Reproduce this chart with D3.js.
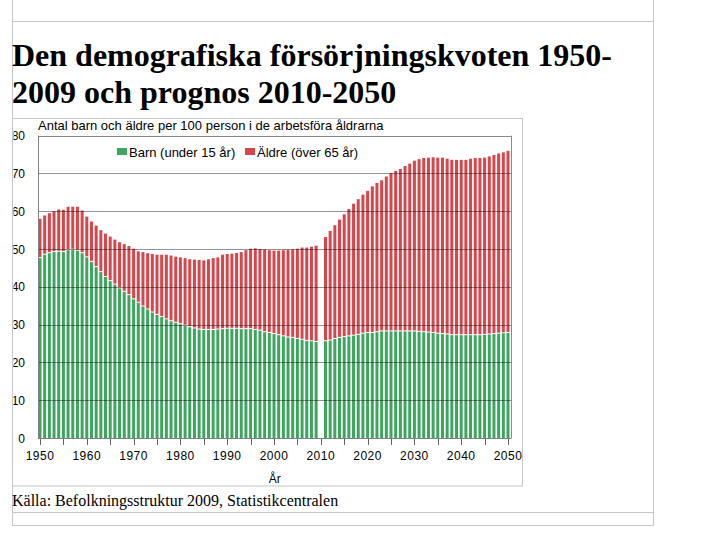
<!DOCTYPE html>
<html><head><meta charset="utf-8">
<script src="https://cdn.jsdelivr.net/npm/d3@7"></script>
<style>html,body{margin:0;padding:0;background:#fff;}svg{display:block;}</style>
</head><body>
<svg id="c" width="706" height="545"></svg>
<script>
const years = d3.range(1950, 2051);
const barn = [
 47.6,48.5,48.9,49.2,49.3,49.2,49.7,49.8,49.6,48.9,
 47.8,46.6,45.2,43.9,42.6,41.5,40.6,39.6,38.7,37.8,
 36.7,35.8,34.8,34.0,33.2,32.6,32.0,31.4,30.9,30.5,
 30.1,29.7,29.3,29.0,28.7,28.6,28.6,28.6,28.7,28.8,
 28.9,28.9,28.9,28.8,28.8,28.8,28.6,28.4,28.0,27.8,
 27.5,27.2,26.9,26.6,26.5,26.2,26.0,25.7,25.6,25.4,
 null,25.6,25.8,26.2,26.5,26.7,26.9,27.1,27.3,27.6,
 27.8,27.8,28.0,28.2,28.2,28.2,28.2,28.2,28.2,28.2,
 28.2,28.1,28.0,27.9,27.8,27.6,27.5,27.4,27.2,27.2,
 27.2,27.2,27.2,27.2,27.2,27.3,27.4,27.5,27.6,27.7,
 27.8];
const aldre = [
 10.4,10.4,10.6,10.8,11.2,11.2,11.5,11.4,11.6,11.3,
 10.8,10.7,11.0,11.1,11.5,11.8,11.9,12.2,12.6,13.0,
 13.4,13.6,14.4,14.9,15.5,15.9,16.5,17.1,17.4,17.5,
 17.7,17.9,18.0,18.2,18.4,18.4,18.7,19.0,19.1,19.7,
 19.8,19.9,20.1,20.4,20.9,21.3,21.6,21.6,21.9,21.9,
 22.1,22.4,22.8,23.2,23.4,23.9,24.4,24.7,25.0,25.5,
 null,27.6,29.0,30.1,31.3,32.5,33.7,34.9,35.9,36.8,
 37.6,38.8,39.5,40.0,41.0,41.9,42.5,43.0,43.8,44.4,
 45.2,45.7,46.1,46.3,46.5,46.6,46.7,46.5,46.4,46.4,
 46.4,46.4,46.7,46.9,46.9,46.9,47.1,47.4,47.7,47.9,
 48.2];
const yTicks = [0,10,20,30,40,50,60,70,80];
const xLabelYears = [1950,1960,1970,1980,1990,2000,2010,2020,2030,2040,2050];
const xTickYears = d3.range(1950, 2051, 5);
const seriesNames = ["Barn (under 15 år)", "Äldre (över 65 år)"];
const colors = ["#3ea55e", "#d8464c"];

const svg = d3.select("#c");
const lineCol = "#c6c6c6";
svg.append("rect").attr("width",706).attr("height",545).attr("fill","#fff");

// page frame
svg.append("line").attr("x1",12.5).attr("x2",12.5).attr("y1",0).attr("y2",525.5).attr("stroke",lineCol);
svg.append("line").attr("x1",653.5).attr("x2",653.5).attr("y1",0).attr("y2",525.5).attr("stroke",lineCol);
[21.5,512.5,525.5].forEach(y=>svg.append("line").attr("x1",12).attr("x2",654).attr("y1",y).attr("y2",y).attr("stroke",lineCol));

// title
const title = svg.append("g").attr("font-family","'Liberation Serif','Times New Roman',serif").attr("font-weight","bold").attr("font-size",32).attr("fill","#000");
title.append("text").attr("x",12).attr("y",66).text("Den demografiska försörjningskvoten 1950-");
title.append("text").attr("x",12).attr("y",103).text("2009 och prognos 2010-2050");

// chart box
svg.append("rect").attr("x",12.5).attr("y",118.5).attr("width",510).attr("height",367.5).attr("fill","none").attr("stroke",lineCol);

const defs = svg.append("defs");
defs.append("clipPath").attr("id","clipL").append("rect").attr("x",13.5).attr("y",100).attr("width",508.5).attr("height",400);

const sans = "'Liberation Sans',Arial,sans-serif";
svg.append("text").attr("x",38).attr("y",130).attr("font-family",sans).attr("font-size",13).attr("fill","#000")
  .text("Antal barn och äldre per 100 person i de arbetsföra åldrarna");

const x = d3.scaleLinear().domain([1950,2050]).range([40,508]);
const y = d3.scaleLinear().domain([0,80]).range([438,135.7]);
const left = 38, right = 511.5;
const bw = 3;

const data = years.map((yr,i)=>({yr, b:barn[i], a:aldre[i]})).filter(d=>d.b!=null);
const gb = svg.append("g");
gb.selectAll("rect.b").data(data).join("rect")
  .attr("x",d=>x(d.yr)-bw/2).attr("width",bw)
  .attr("y",d=>y(d.b)).attr("height",d=>y(0)-y(d.b)).attr("fill",colors[0]);
gb.selectAll("rect.a").data(data).join("rect")
  .attr("x",d=>x(d.yr)-bw/2).attr("width",bw)
  .attr("y",d=>y(d.b+d.a)).attr("height",d=>Math.max(0,y(d.b)-y(d.b+d.a)-1)).attr("fill",colors[1]);

// gridlines over bars
const grid = svg.append("g");
yTicks.filter(t=>t>0&&t<80).forEach(t=>{
  grid.append("line").attr("x1",left).attr("x2",right).attr("y1",Math.round(y(t))+0.5).attr("y2",Math.round(y(t))+0.5)
   .attr("stroke","#000").attr("stroke-opacity",0.42);
});
// plot frame
svg.append("line").attr("x1",left).attr("x2",right).attr("y1",Math.round(y(80))+0.5).attr("y2",Math.round(y(80))+0.5).attr("stroke","#8a8a8a");
svg.append("line").attr("x1",right).attr("x2",right).attr("y1",y(80)).attr("y2",y(0)).attr("stroke","#8a8a8a");
svg.append("line").attr("x1",left+0.5).attr("x2",left+0.5).attr("y1",y(80)).attr("y2",y(0)+0.5).attr("stroke","#808080");
svg.append("line").attr("x1",left).attr("x2",right).attr("y1",y(0)+0.5).attr("y2",y(0)+0.5).attr("stroke","#808080");

// y labels
const yl = svg.append("g").attr("clip-path","url(#clipL)").attr("font-family",sans).attr("font-size",12).attr("fill","#000").attr("text-anchor","end");
yTicks.forEach(t=>yl.append("text").attr("x",25).attr("y",y(t)+4.5).text(t));

// x ticks
const xt = svg.append("g");
xTickYears.forEach(t=>xt.append("line").attr("x1",Math.round(x(t))+0.5).attr("x2",Math.round(x(t))+0.5).attr("y1",y(0)+1).attr("y2",y(0)+7).attr("stroke","#666"));
const xlG = svg.append("g").attr("clip-path","url(#clipL)").attr("font-family",sans).attr("font-size",12).attr("fill","#000").attr("text-anchor","middle");
xLabelYears.forEach(t=>xlG.append("text").attr("x",x(t)).attr("y",460).attr("letter-spacing",0.5).text(t));
svg.append("text").attr("x",(left+right)/2).attr("y",483).attr("font-family",sans).attr("font-size",12).attr("text-anchor","middle").text("År");

// legend
const lg = svg.append("g").attr("font-family",sans).attr("font-size",13).attr("fill","#000");
const legX = [117, 245];
seriesNames.forEach((n,i)=>{
  lg.append("rect").attr("x",legX[i]).attr("y",148).attr("width",10).attr("height",7).attr("fill",colors[i]);
  lg.append("text").attr("x",legX[i]+12).attr("y",157).text(n);
});

// footer
svg.append("text").attr("x",12).attr("y",506).attr("font-family","'Liberation Serif','Times New Roman',serif").attr("font-size",16).attr("fill","#000")
  .text("Källa: Befolkningsstruktur 2009, Statistikcentralen");
</script>
</body></html>
